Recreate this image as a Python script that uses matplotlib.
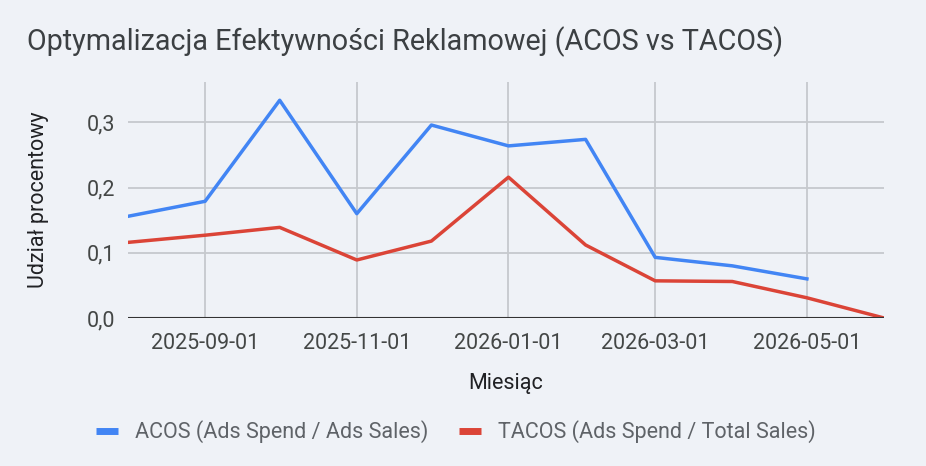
import numpy as np
import pandas as pd
import matplotlib
matplotlib.use('Agg')
import matplotlib.pyplot as plt
import matplotlib.dates as mdates
from matplotlib.ticker import FuncFormatter

plt.rcParams['font.family'] = ['Roboto', 'DejaVu Sans']

months = ['2025-08-01', '2025-09-01', '2025-10-01', '2025-11-01', '2025-12-01',
          '2026-01-01', '2026-02-01', '2026-03-01', '2026-04-01', '2026-05-01',
          '2026-06-01']
acos = [0.156, 0.179, 0.334, 0.160, 0.296, 0.264, 0.274, 0.093, 0.080, 0.060, np.nan]
tacos = [0.116, 0.127, 0.139, 0.089, 0.118, 0.216, 0.112, 0.057, 0.056, 0.031, 0.0]
xticks = ['2025-09-01', '2025-11-01', '2026-01-01', '2026-03-01', '2026-05-01']
yticks = [0.0, 0.1, 0.2, 0.3]

title = 'Optymalizacja Efektywności Reklamowej (ACOS vs TACOS)'
label_acos = 'ACOS (Ads Spend / Ads Sales)'
label_tacos = 'TACOS (Ads Spend / Total Sales)'

bg = '#eff2f7'
dates = pd.to_datetime(months)

fig = plt.figure(figsize=(9.26, 4.66), dpi=100, facecolor=bg)
ax = fig.add_axes([128 / 926, 1 - 318 / 466, 756 / 926, 236 / 466])
ax.set_facecolor(bg)

ax.plot(dates, acos, color='#4285f4', lw=2.5, label=label_acos, zorder=3,
        solid_joinstyle='round')
ax.plot(dates, tacos, color='#db4437', lw=2.5, label=label_tacos, zorder=3,
        solid_joinstyle='round')

ax.set_xlim(dates[0], dates[-1])
ax.set_ylim(0, 0.362)
ax.set_xticks(pd.to_datetime(xticks))
ax.xaxis.set_major_formatter(mdates.DateFormatter('%Y-%m-%d'))
ax.set_yticks(yticks)
ax.yaxis.set_major_formatter(FuncFormatter(lambda v, p: f'{v:.1f}'.replace('.', ',')))

ax.grid(True, color='#c6c9cd', lw=1.3, zorder=0)
ax.axhline(0, color='#333333', lw=1.5, zorder=4)
for s in ax.spines.values():
    s.set_visible(False)
ax.tick_params(length=0, labelsize=15.5, colors='#444746', pad=9)
ax.tick_params(axis='x', pad=11)

fig.text(27 / 926, 1 - 42 / 466, title, fontsize=20.7, color='#3c4043',
         va='center', ha='left')
ax.set_ylabel('Udział procentowy', fontsize=15.5, color='#202124', labelpad=27)
fig.text(506 / 926, 1 - 384 / 466, 'Miesiąc', fontsize=15.5, color='#202124',
         ha='center', va='center')

leg = fig.legend(loc='center', bbox_to_anchor=(456 / 926, 1 - 432 / 466), ncol=2,
                 frameon=False, fontsize=15.5, handlelength=1.0, handletextpad=0.8,
                 columnspacing=1.45)
for h in leg.get_lines():
    h.set_linewidth(5)
    h.set_solid_capstyle('butt')
for t in leg.get_texts():
    t.set_color('#5f6368')

fig.savefig('out.png', dpi=100, facecolor=bg)
